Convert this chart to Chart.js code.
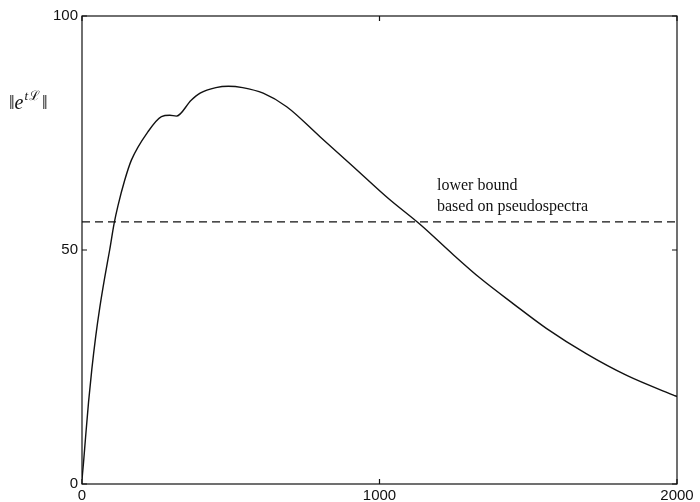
<!DOCTYPE html>
<html>
<head>
<meta charset="utf-8">
<script src="https://cdn.jsdelivr.net/npm/chart.js@4"></script>
<style>
  html, body { margin: 0; padding: 0; background: #fff; }
  #wrap { width: 700px; height: 502px; position: relative; }
</style>
</head>
<body>
<div id="wrap"><canvas id="chart"></canvas></div>
<script>
// values
const tValues = [0, 5, 12, 22, 33, 46, 60, 76, 93, 108, 121, 143, 166, 222, 267, 295, 317, 367, 397, 450, 492, 540, 609, 688, 800, 912, 1030, 1136, 1248, 1338, 1450, 1562, 1696, 1831, 1988, 2000];
const normValues = [1, 4.5, 10, 17.5, 24.5, 31.5, 37.8, 44, 50, 55.7, 59.5, 64.8, 69.2, 75.3, 78.5, 78.8, 78.6, 82, 83.5, 84.7, 85.0, 84.7, 83.5, 80.6, 74.2, 67.8, 61.0, 55.5, 49.0, 44.0, 38.5, 33.2, 27.8, 23.2, 19.0, 18.7];
const boundT = [0, 2000];
const boundValue = [56, 56];
const xTicks = [0, 1000, 2000];
const yTicks = [0, 50, 100];
const noteLines = ['lower bound', 'based on pseudospectra'];

const ink = '#111';

// frame, inner tick marks, y label and annotation
const decorations = {
    id: 'decorations',
    afterDraw(chart) {
        const ctx = chart.ctx;
        const a = chart.chartArea;
        const xs = chart.scales.x, ys = chart.scales.y;
        ctx.save();
        ctx.strokeStyle = ink;
        ctx.lineWidth = 1.2;
        ctx.strokeRect(a.left, a.top, a.right - a.left, a.bottom - a.top);
        ctx.beginPath();
        yTicks.forEach(v => {
            const y = ys.getPixelForValue(v);
            ctx.moveTo(a.left, y); ctx.lineTo(a.left + 5, y);
            ctx.moveTo(a.right, y); ctx.lineTo(a.right - 5, y);
        });
        xTicks.forEach(v => {
            const x = xs.getPixelForValue(v);
            ctx.moveTo(x, a.bottom); ctx.lineTo(x, a.bottom - 5);
            ctx.moveTo(x, a.top); ctx.lineTo(x, a.top + 5);
        });
        ctx.stroke();

        // y axis label  ||e^{tL}||
        ctx.fillStyle = ink;
        ctx.textBaseline = 'alphabetic';
        ctx.textAlign = 'left';
        let x = 9;
        const base = 109;
        ctx.font = '20px "Liberation Serif", serif';
        ctx.fillText('\u2016', x, base);
        x += ctx.measureText('\u2016').width;
        ctx.font = 'italic 20px "Liberation Serif", serif';
        ctx.fillText('e', x, base);
        x += ctx.measureText('e').width + 1;
        ctx.font = 'italic 13px "Liberation Serif", serif';
        ctx.fillText('t', x, base - 9);
        x += ctx.measureText('t').width + 1;
        ctx.font = '13px "DejaVu Serif", serif';
        ctx.fillText('\u2112', x, base - 9);
        x += ctx.measureText('\u2112').width + 2;
        ctx.font = '20px "Liberation Serif", serif';
        ctx.fillText('\u2016', x, base);

        // annotation
        ctx.font = '16px "Liberation Serif", serif';
        ctx.fillText(noteLines[0], 437, 190);
        ctx.fillText(noteLines[1], 437, 211);
        ctx.restore();
    }
};

new Chart(document.getElementById('chart'), {
    type: 'line',
    data: {
        datasets: [
            {
                label: 'norm',
                data: tValues.map((t, i) => ({ x: t, y: normValues[i] })),
                borderColor: ink,
                borderWidth: 1.4,
                pointRadius: 0,
                cubicInterpolationMode: 'monotone',
                fill: false
            },
            {
                label: 'lower bound',
                data: boundT.map((t, i) => ({ x: t, y: boundValue[i] })),
                borderColor: ink,
                borderWidth: 1.2,
                borderDash: [8, 5],
                pointRadius: 0,
                fill: false
            }
        ]
    },
    plugins: [decorations],
    options: {
        responsive: true,
        maintainAspectRatio: false,
        animation: false,
        layout: { padding: { left: 0, right: 23, top: 16, bottom: 0 } },
        plugins: {
            legend: { display: false },
            tooltip: { enabled: false }
        },
        scales: {
            x: {
                type: 'linear',
                min: 0,
                max: 2000,
                afterFit: s => { s.height = 18; },
                afterBuildTicks: s => { s.ticks = xTicks.map(v => ({ value: v })); },
                grid: { display: false, drawTicks: false },
                border: { display: false },
                ticks: {
                    color: ink,
                    padding: 3,
                    maxRotation: 0,
                    callback: v => String(v),
                    font: { family: '"Liberation Sans", Arial, sans-serif', size: 15 }
                }
            },
            y: {
                min: 0,
                max: 100,
                afterFit: s => { s.width = 82; },
                afterBuildTicks: s => { s.ticks = yTicks.map(v => ({ value: v })); },
                grid: { display: false, drawTicks: false },
                border: { display: false },
                ticks: {
                    color: ink,
                    padding: 4,
                    callback: v => String(v),
                    font: { family: '"Liberation Sans", Arial, sans-serif', size: 15 }
                }
            }
        }
    }
});
</script>
</body>
</html>
